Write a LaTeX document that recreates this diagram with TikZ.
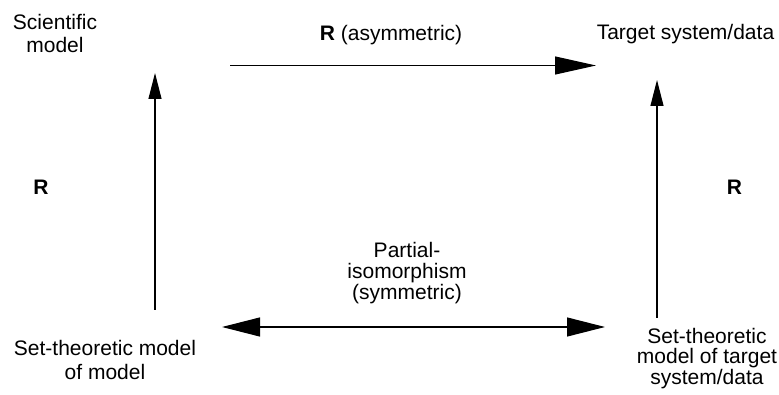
\documentclass[tikz,border=0pt]{standalone}
\usepackage{fontspec}
\setmainfont{Liberation Sans}
\usetikzlibrary{arrows.meta}
\tikzset{
  lbl/.style={inner sep=0pt, outer sep=0pt, align=center, anchor=base, font=\fontsize{21}{23}\selectfont},
  conn/.style={line width=1.1pt, black},
  bighead/.style={-{Triangle[length=41pt,width=18pt]}},
  vhead/.style={-{Triangle[length=26pt,width=13pt]}},
  dblhead/.style={{Triangle[length=38pt,width=19pt]}-{Triangle[length=38pt,width=19pt]}}
}
\begin{document}
\begin{tikzpicture}[x=1pt,y=-1pt]
\useasboundingbox[fill=white] (0,0) rectangle (779,395);
% text nodes (base anchor = baseline of last line)
\node[lbl] (sci) at (55,53) {Scientific\\model};
\node[lbl] (rasym) at (391,41) {\textbf{R} (asymmetric)};
\node[lbl] (target) at (685.5,40) {Target system/data};
\node[lbl] (rleft) at (41,195) {\textbf{R}};
\node[lbl] (rright) at (734.5,195) {\textbf{R}};
\node[lbl, font=\fontsize{21}{21.5}\selectfont] (iso) at (407,300) {Partial-\\isomorphism\\(symmetric)};
\node[lbl, font=\fontsize{21}{24}\selectfont] (stm) at (105,379) {Set-theoretic model\\of model};
\node[lbl, font=\fontsize{21}{19.5}\selectfont] (stt) at (707,384) {Set-theoretic\\model of target\\system/data};
% connector end points
\coordinate (a1) at (230,65.5);
\coordinate (a2) at (596,65.5);
\coordinate (l1) at (155,310);
\coordinate (l2) at (155,73);
\coordinate (r1) at (657,318);
\coordinate (r2) at (657,80);
\coordinate (b1) at (222,327);
\coordinate (b2) at (605,327);
% connectors
\draw[conn, bighead] (a1) -- (a2);
\draw[conn, vhead] (l1) -- (l2);
\draw[conn, vhead] (r1) -- (r2);
\draw[conn, dblhead] (b1) -- (b2);
\end{tikzpicture}
\end{document}
